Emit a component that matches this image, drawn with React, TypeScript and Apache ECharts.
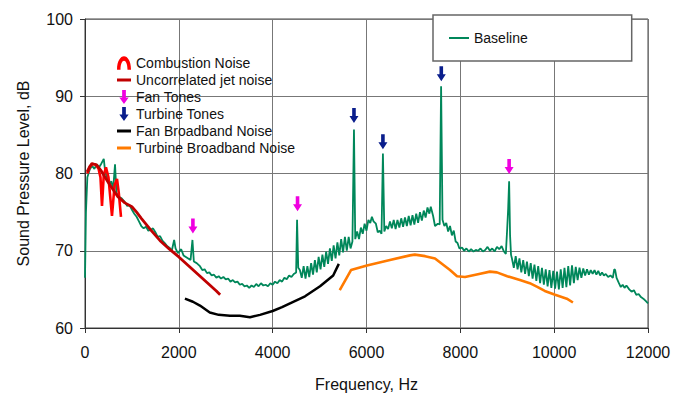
import React, { useEffect, useRef } from "react";
import * as echarts from "echarts";

// Frequency (Hz), SPL (dB)
const baseline: [number, number][] = [
  [0, 66.5], [20, 75], [50, 79.5], [100, 80.5], [150, 81], [200, 80.6], [250, 81.2], [300, 80.8], [350, 81.3], [400, 81.9],
  [430, 80.2], [470, 79.5], [520, 78.5], [560, 79], [600, 78], [640, 81.2], [670, 77.5], [720, 77], [780, 76.8], [850, 76.3],
  [900, 75.8], [950, 75.9], [1000, 75.3], [1050, 74.8], [1100, 74.4], [1150, 73.8], [1200, 73.2], [1250, 72.9], [1300, 73.1],
  [1350, 72.6], [1400, 72.7], [1450, 72.9], [1500, 72.4], [1550, 71.8], [1600, 71.9], [1650, 71.3], [1700, 71.0], [1750, 70.6],
  [1800, 70.4], [1850, 70.0], [1900, 71.4], [1930, 70.3], [1980, 69.7], [2050, 70.2], [2100, 69.4], [2150, 69.2], [2250, 68.8],
  [2290, 71.4], [2320, 68.6], [2380, 68.4], [2450, 68.0], [2500, 67.5], [2550, 67.6], [2600, 67.1], [2650, 67.2], [2700, 66.8],
  [2750, 66.9], [2800, 66.5], [2850, 66.7], [2900, 66.4], [2950, 66.6], [3000, 66.3], [3050, 66.4], [3100, 66.0], [3150, 66.2],
  [3200, 65.9], [3250, 66.0], [3300, 65.6], [3350, 65.7], [3400, 65.4], [3450, 65.5], [3500, 65.2], [3550, 65.5], [3600, 65.3],
  [3650, 65.7], [3700, 65.4], [3750, 65.8], [3800, 65.5], [3850, 65.6], [3900, 65.4], [3950, 65.8], [4000, 65.6], [4050, 66.0],
  [4100, 65.8], [4150, 66.2], [4200, 66.0], [4250, 66.5], [4300, 66.3], [4350, 66.8], [4400, 66.6], [4450, 67.0], [4500, 67.2],
  [4520, 74.0], [4545, 67.8], [4580, 67.5], [4620, 66.5], [4660, 68.0], [4700, 66.4], [4740, 68.0], [4780, 66.6], [4820, 68.4],
  [4860, 66.9], [4900, 68.8], [4940, 67.2], [4980, 69.2], [5020, 67.6], [5060, 69.5], [5100, 67.9], [5140, 69.9], [5180, 68.3],
  [5220, 70.3], [5260, 68.7], [5300, 70.7], [5340, 69.0], [5380, 71.1], [5420, 69.4], [5460, 71.5], [5500, 69.8], [5540, 71.8],
  [5580, 70.0], [5620, 71.8], [5660, 70.3], [5700, 71.2], [5733, 85.7], [5760, 71.5], [5800, 72.5], [5840, 71.5], [5880, 73.0],
  [5920, 72.2], [5960, 73.5], [6000, 72.6], [6040, 74.0], [6080, 73.6], [6115, 74.4], [6150, 73.8], [6200, 73.5], [6240, 72.4],
  [6280, 72.6], [6320, 72.2], [6350, 82.6], [6380, 72.5], [6420, 73.2], [6460, 72.8], [6500, 73.8], [6540, 72.9], [6580, 74.0],
  [6620, 72.8], [6660, 74.0], [6700, 73.0], [6740, 74.2], [6780, 73.1], [6820, 74.3], [6860, 73.2], [6900, 74.5], [6940, 73.3],
  [6980, 74.6], [7020, 73.4], [7060, 74.8], [7100, 73.6], [7140, 75.0], [7180, 73.9], [7220, 75.2], [7260, 74.3], [7300, 75.6],
  [7340, 74.8], [7370, 75.7], [7420, 74.5], [7460, 73.2], [7520, 73.5], [7560, 73.4], [7590, 91.3], [7620, 74.0], [7660, 73.2],
  [7700, 73.6], [7740, 72.5], [7780, 73.2], [7820, 72.0], [7860, 72.6], [7900, 71.2], [7940, 71.0], [7980, 70.3], [8040, 70.4],
  [8080, 70.0], [8130, 70.3], [8180, 69.9], [8230, 70.2], [8280, 69.9], [8330, 70.1], [8380, 70.0], [8430, 70.3], [8480, 69.9],
  [8530, 70.1], [8580, 70.5], [8630, 70.0], [8680, 70.3], [8730, 69.9], [8780, 70.5], [8830, 70.2], [8880, 70.6], [8930, 69.9],
  [8970, 69.6], [9000, 73.0], [9020, 75.5], [9040, 79.0], [9060, 72.0], [9080, 69.5], [9100, 69.0], [9140, 67.8], [9180, 69.3],
  [9220, 67.6], [9260, 69.0], [9300, 67.2], [9340, 68.8], [9380, 67.0], [9420, 68.6], [9460, 66.7], [9500, 68.4], [9540, 66.4],
  [9580, 68.2], [9620, 66.1], [9660, 68.0], [9700, 65.8], [9740, 67.8], [9780, 65.6], [9820, 67.6], [9860, 65.4], [9900, 67.5],
  [9940, 65.2], [9980, 67.4], [10020, 65.1], [10060, 67.3], [10100, 65.0], [10140, 67.6], [10180, 65.2], [10220, 67.8],
  [10260, 65.3], [10300, 68.0], [10340, 65.5], [10380, 68.1], [10420, 65.8], [10460, 67.9], [10500, 66.2], [10540, 67.8],
  [10580, 66.5], [10620, 67.7], [10660, 66.8], [10700, 67.6], [10740, 66.9], [10780, 67.5], [10820, 67.0], [10860, 67.5],
  [10900, 66.9], [10940, 67.4], [10980, 66.8], [11020, 67.2], [11060, 66.8], [11100, 67.0], [11150, 66.6], [11200, 66.8],
  [11250, 66.5], [11280, 67.6], [11300, 67.5], [11330, 66.5], [11380, 65.8], [11420, 65.3], [11460, 65.6], [11500, 65.2],
  [11540, 65.5], [11600, 65.0], [11650, 64.7], [11700, 64.9], [11750, 64.3], [11800, 64.4], [11850, 64.0], [11900, 63.8],
  [11950, 63.5], [12000, 63.2],
];

const combustionNoise: [number, number][] = [
  [50, 80.0], [100, 80.8], [150, 81.2], [220, 81.2], [290, 80.6], [330, 79.5], [362, 75.8], [400, 79.8], [447, 80.8],
  [500, 79.5], [575, 74.5], [630, 78.5], [682, 79.3], [720, 77.5], [767, 74.4],
];

const jetNoise: [number, number][] = [
  [45, 80.2], [100, 80.9], [150, 81.3], [250, 81.1], [350, 80.3], [490, 78.9], [600, 77.9], [700, 77.0], [850, 76.2],
  [1000, 75.7], [1100, 75.0], [1200, 74.2], [1400, 72.7], [1600, 71.3], [1800, 70.2], [2000, 69.2], [2200, 68.1],
  [2400, 67.0], [2600, 65.9], [2800, 64.8], [2880, 64.3],
];

const fanBroadband: [number, number][] = [
  [2130, 63.8], [2300, 63.4], [2450, 62.9], [2660, 62.0], [2850, 61.7], [3090, 61.6], [3300, 61.6], [3516, 61.4],
  [3730, 61.7], [4000, 62.2], [4200, 62.7], [4370, 63.2], [4690, 64.1], [5010, 65.4], [5290, 66.8], [5410, 68.3],
];

const turbineBroadband: [number, number][] = [
  [5430, 64.9], [5670, 67.5], [6010, 68.1], [6500, 68.8], [6925, 69.4], [7030, 69.5], [7250, 69.3], [7460, 69.0],
  [7780, 67.5], [7930, 66.7], [8100, 66.6], [8400, 67.0], [8630, 67.3], [8780, 67.2], [9000, 66.7], [9270, 66.2],
  [9480, 65.8], [9650, 65.3], [9800, 64.8], [10020, 64.3], [10270, 63.8], [10400, 63.3],
];

const fanTones: [number, number][] = [
  [2300, 73.2], [4530, 76.1], [9040, 80.9],
];

const turbineTones: [number, number][] = [
  [5733, 87.5], [6350, 84.1], [7594, 92.9],
];

const xTicks = { min: 0, max: 12000, interval: 2000 };
const yTicks = { min: 60, max: 100, interval: 10 };

const ARROW = "path://M3,0 L7,0 L7,8 L10,8 L5,15 L0,8 L3,8 Z";
const ARCH = "path://M0,14 C0,-4 14,-4 14,14 L10.5,14 C10.5,2 3.5,2 3.5,14 Z";
const DASH = "path://M0,0 L14,0 L14,3 L0,3 Z";

const FONT = "Liberation Sans, Arial, sans-serif";

export default function App() {
  const ref = useRef<HTMLDivElement>(null);
  useEffect(() => {
    if (!ref.current) return;
    const chart = echarts.init(ref.current, undefined, { renderer: "svg" });
    const lineSeries = (name: string, data: [number, number][], color: string, width: number, z: number) => ({
      name,
      type: "line",
      data,
      showSymbol: false,
      symbol: "none",
      z,
      color,
      itemStyle: { color },
      lineStyle: { color, width },
    });
    chart.setOption({
      animation: false,
      textStyle: { fontFamily: FONT },
      grid: { left: 85, top: 19, right: 38, bottom: 67, show: true, borderColor: "#444", borderWidth: 1 },
      xAxis: {
        type: "value",
        min: xTicks.min,
        max: xTicks.max,
        interval: xTicks.interval,
        name: "Frequency, Hz",
        nameLocation: "middle",
        nameGap: 48,
        nameTextStyle: { fontSize: 16, color: "#111", fontFamily: FONT },
        axisLine: { show: true, lineStyle: { color: "#333", width: 1 } },
        axisTick: { show: true, length: 5, lineStyle: { color: "#333" } },
        axisLabel: { fontSize: 16, color: "#111", margin: 16, fontFamily: FONT, formatter: (v: number) => String(v) },
        splitLine: { show: true, lineStyle: { color: "#777", width: 1 } },
      },
      yAxis: {
        type: "value",
        min: yTicks.min,
        max: yTicks.max,
        interval: yTicks.interval,
        name: "Sound Pressure Level, dB",
        nameLocation: "middle",
        nameGap: 54,
        nameTextStyle: { fontSize: 16, color: "#111", fontFamily: FONT },
        axisLine: { show: true, lineStyle: { color: "#333", width: 1 } },
        axisTick: { show: true, length: 5, lineStyle: { color: "#333" } },
        axisLabel: { fontSize: 16, color: "#111", margin: 12, fontFamily: FONT, formatter: (v: number) => String(v) },
        splitLine: { show: true, lineStyle: { color: "#777", width: 1 } },
      },
      legend: [
        {
          orient: "vertical",
          left: 117,
          top: 56,
          itemWidth: 14,
          itemHeight: 14,
          itemGap: 3,
          padding: 0,
          textStyle: { fontSize: 14, color: "#111", fontFamily: FONT },
          itemStyle: { borderWidth: 0, opacity: 1 },
          data: [
            { name: "Combustion Noise", icon: ARCH },
            { name: "Uncorrelated jet noise", icon: DASH },
            { name: "Fan Tones", icon: ARROW },
            { name: "Turbine Tones", icon: ARROW },
            { name: "Fan Broadband Noise", icon: DASH },
            { name: "Turbine Broadband Noise", icon: DASH },
          ],
        },
        {
          left: 433,
          top: 15,
          itemWidth: 20,
          itemHeight: 14,
          padding: [16, 104, 16, 16],
          backgroundColor: "#fff",
          borderColor: "#666",
          borderWidth: 1.5,
          textStyle: { fontSize: 14, color: "#111", fontFamily: FONT },
          data: [{ name: "Baseline", icon: "path://M0,0 L20,0 L20,2 L0,2 Z" }],
        },
      ],
      series: [
        lineSeries("Baseline", baseline, "#00875A", 1.8, 2),
        lineSeries("Uncorrelated jet noise", jetNoise, "#C00000", 2.8, 4),
        lineSeries("Combustion Noise", combustionNoise, "#FF0000", 2.6, 3),
        lineSeries("Fan Broadband Noise", fanBroadband, "#000000", 2.5, 4),
        lineSeries("Turbine Broadband Noise", turbineBroadband, "#FF7A00", 2.6, 4),
        {
          name: "Fan Tones",
          type: "scatter",
          data: fanTones,
          symbol: ARROW,
          symbolSize: [9, 15],
          itemStyle: { color: "#F000E0", opacity: 1 },
          color: "#F000E0",
          z: 5,
        },
        {
          name: "Turbine Tones",
          type: "scatter",
          data: turbineTones,
          symbol: ARROW,
          symbolSize: [9, 15],
          itemStyle: { color: "#0A1E8C", opacity: 1 },
          color: "#0A1E8C",
          z: 5,
        },
      ],
    });
    return () => chart.dispose();
  }, []);
  return <div ref={ref} style={{ width: 686, height: 397, position: "absolute", left: 0, top: 0 }} />;
}
